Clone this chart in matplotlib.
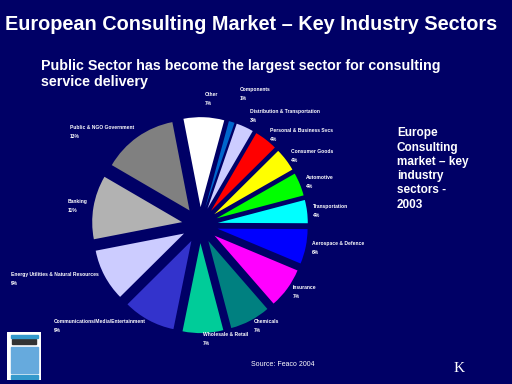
import matplotlib
matplotlib.use("Agg")
import numpy as np
import matplotlib.pyplot as plt
from matplotlib.patches import Rectangle

plt.rcParams['font.family'] = ['Liberation Sans', 'DejaVu Sans']

bg = '#000066'

sectors = ['Other', 'Components', 'Distribution & Transportation',
           'Personal & Business Svcs', 'Consumer Goods', 'Automotive',
           'Transportation', 'Aerospace & Defence', 'Insurance', 'Chemicals',
           'Wholesale & Retail', 'Communications/Media/Entertainment',
           'Energy Utilities & Natural Resources', 'Banking',
           'Public & NGO Government']
shares = [7, 1, 3, 4, 4, 4, 4, 6, 7, 7, 7, 9, 9, 11, 13]
colors = ['#FFFFFF', '#0066CC', '#CCCCFF', '#FF0000', '#FFFF00', '#00FF00',
          '#00FFFF', '#0000FF', '#FF00FF', '#008080', '#00CC99', '#3333CC',
          '#CCCCFF', '#B2B2B2', '#808080']

title = 'European Consulting Market \u2013 Key Industry Sectors'
subtitle = 'Public Sector has become the largest sector for consulting\nservice delivery'
side_note = 'Europe\nConsulting\nmarket \u2013 key\nindustry\nsectors -\n2003'
source = 'Source: Feaco 2004'

# label distance per slice (crowded small slices at the top pushed out)
label_dist = [1.2, 1.32, 1.13, 1.07, 1.07, 1.07, 1.07, 1.07, 1.07, 1.07,
              1.07, 1.07, 1.07, 1.07, 1.07]

fig = plt.figure(figsize=(5.12, 3.84), dpi=100, facecolor=bg)

fig.text(0.01, 0.935, title, color='white', fontsize=14.3, fontweight='bold',
         va='center', ha='left')
fig.text(0.08, 0.808, subtitle, color='white', fontsize=10.3, fontweight='bold',
         va='center', ha='left', linespacing=1.2)
fig.text(0.775, 0.56, side_note, color='white', fontsize=8.5, fontweight='bold',
         va='center', ha='left', linespacing=1.25)
fig.text(0.49, 0.05, source, color='white', fontsize=5, va='center', ha='left')
fig.text(0.885, 0.04, 'K', color='white', fontsize=11, va='center', ha='left',
         family='Liberation Serif')

ax = fig.add_axes([0.039, -0.055, 0.703, 0.9375])
ax.set_facecolor(bg)
labels = ['%s\n%d%%' % (s, v) for s, v in zip(sectors, shares)]
wedges, texts = ax.pie(shares, colors=colors, labels=labels,
                       startangle=101, counterclock=False,
                       explode=[0.2] * len(shares), labeldistance=1.07,
                       textprops=dict(color='white', fontsize=3.6, fontweight='bold',
                                      linespacing=2.0))
for w, t, d in zip(wedges, texts, label_dist):
    w.set_linewidth(0)
    ang = np.deg2rad((w.theta1 + w.theta2) / 2)
    cx, cy = w.center
    t.set_position((cx + d * w.r * np.cos(ang), cy + d * w.r * np.sin(ang)))
    t.set_multialignment('left')
ax.set_xlim(-2, 2)
ax.set_ylim(-2, 2)
ax.axis('off')

# small book-cover logo, bottom left
lax = fig.add_axes([0.014, 0.01, 0.066, 0.125])
lax.set_xlim(0, 1)
lax.set_ylim(0, 1)
lax.axis('off')
lax.add_patch(Rectangle((0, 0), 1, 1, color='white'))
lax.add_patch(Rectangle((0.1, 0.15), 0.8, 0.55, color='#66AADD'))
lax.add_patch(Rectangle((0.15, 0.75), 0.7, 0.1, color='#333333'))
lax.add_patch(Rectangle((0.1, 0.88), 0.8, 0.06, color='#3399CC'))
lax.add_patch(Rectangle((0.1, 0.03), 0.8, 0.08, color='#3399CC'))

fig.savefig('out.png', dpi=100, facecolor=bg)
